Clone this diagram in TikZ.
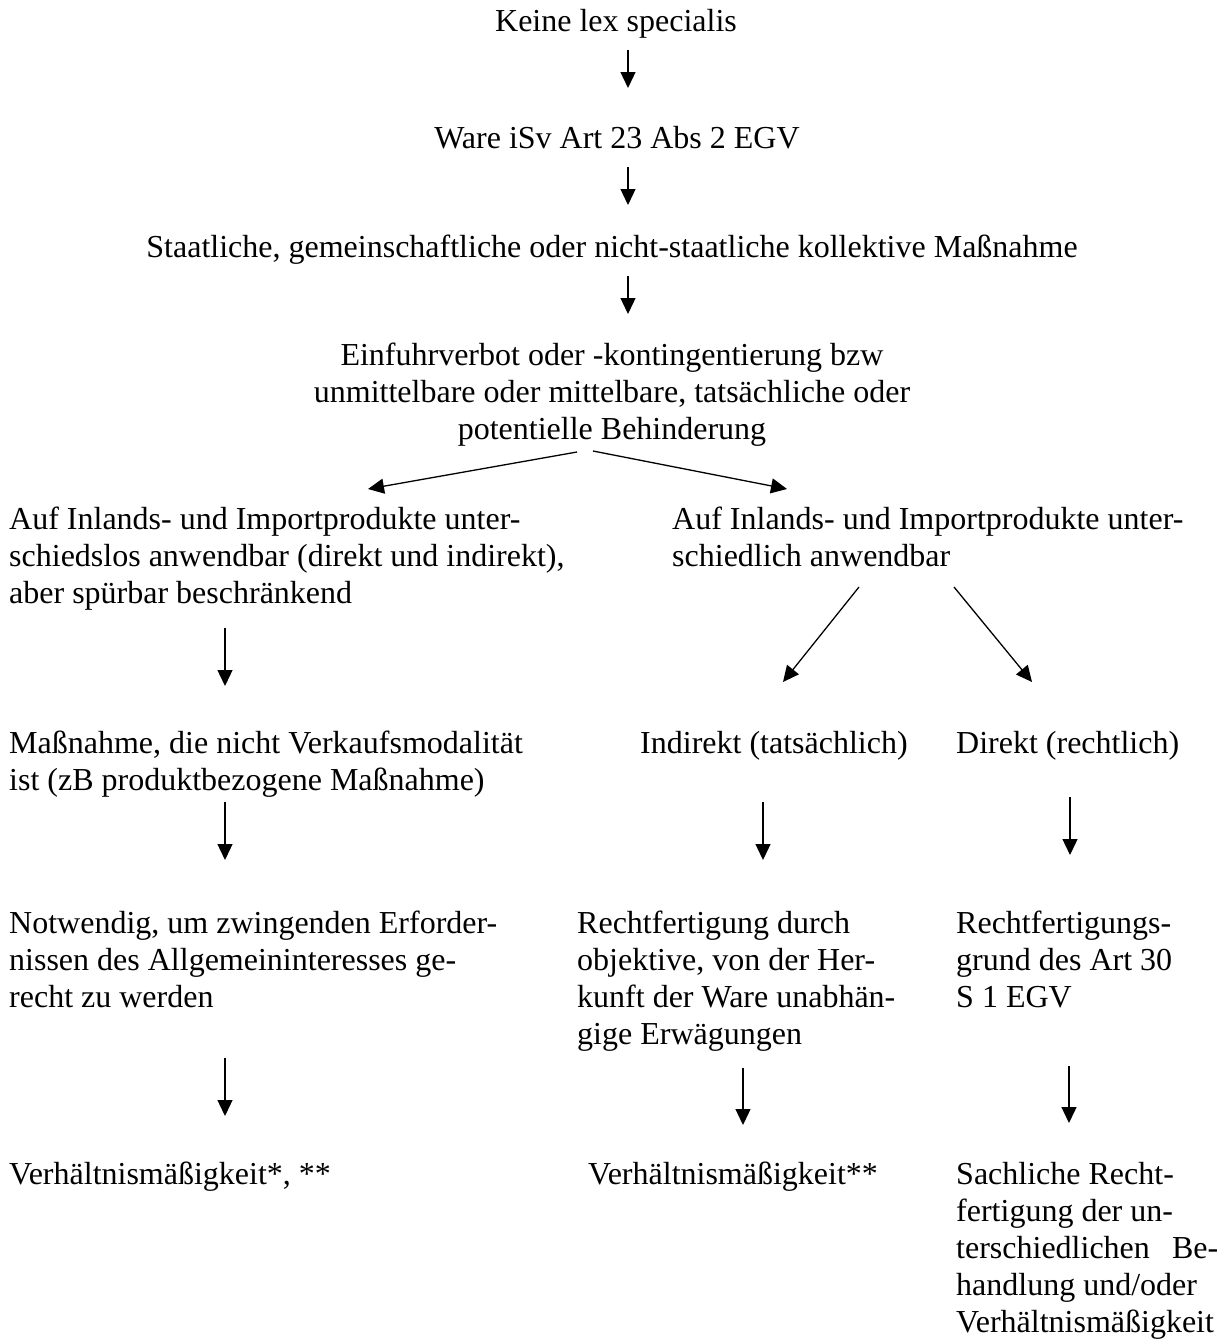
\documentclass[tikz,border=0pt]{standalone}
\usepackage{fontspec}
\setmainfont{Liberation Serif}
\usetikzlibrary{arrows.meta}
\newcommand{\fl}{\rule{0pt}{27pt}}
\begin{document}
\begin{tikzpicture}[x=1pt,y=-1pt,
  txt/.style={inner sep=0pt, anchor=north west, align=left, font=\fontsize{32}{37}\selectfont},
  ctxt/.style={txt, anchor=north, align=center},
  arr/.style={line width=1.3pt, -{Triangle[length=16pt,width=15pt]}}]
\fill[white] (0,0) rectangle (1229,1341);
\useasboundingbox (0,0) rectangle (1229,1341);
% texts
\node[ctxt] (keine) at (616,4) {\fl Keine lex specialis};
\node[ctxt] (ware) at (617,121) {\fl Ware iSv Art 23 Abs 2 EGV};
\node[ctxt] (staat) at (612,230) {\fl Staatliche, gemeinschaftliche oder nicht-staatliche kollektive Maßnahme};
\node[ctxt] (einf) at (612,338) {\fl Einfuhrverbot oder -kontingentierung bzw\\unmittelbare oder mittelbare, tatsächliche oder\\potentielle Behinderung};
\node[txt] (aufl) at (9,502) {\fl Auf Inlands- und Importprodukte unter-\\schiedslos anwendbar (direkt und indirekt),\\aber spürbar beschränkend};
\node[txt] (aufr) at (672,502) {\fl Auf Inlands- und Importprodukte unter-\\schiedlich anwendbar};
\node[txt] (mass) at (9,726) {\fl Maßnahme, die nicht Verkaufsmodalität\\ist (zB produktbezogene Maßnahme)};
\node[txt] (indir) at (640,726) {\fl Indirekt (tatsächlich)};
\node[txt] (direkt) at (956,726) {\fl Direkt (rechtlich)};
\node[txt] (notw) at (9,906) {\fl Notwendig, um zwingenden Erforder-\\nissen des Allgemeininteresses ge-\\recht zu werden};
\node[txt] (recht) at (577,906) {\fl Rechtfertigung durch\\objektive, von der Her-\\kunft der Ware unabhän-\\gige Erwägungen};
\node[txt] (rgrund) at (956,906) {\fl Rechtfertigungs-\\grund des Art 30\\S 1 EGV};
\node[txt] (verha) at (9,1157) {\fl Verhältnismäßigkeit*, **};
\node[txt] (verhb) at (588,1157) {\fl Verhältnismäßigkeit**};
\node[txt] (sachl) at (956,1157) {\fl Sachliche Recht-\\fertigung der un-\\\hbox to 262pt{terschiedlichen\hfill Be-}\\handlung und/oder\\Verhältnismäßigkeit};
% connector end points
\coordinate (a1s) at (628,50);   \coordinate (a1e) at (628,88);
\coordinate (a2s) at (628,167);  \coordinate (a2e) at (628,205);
\coordinate (a3s) at (628,276);  \coordinate (a3e) at (628,314);
\coordinate (d1s) at (577,452);  \coordinate (d1e) at (368,489);
\coordinate (d2s) at (593,451);  \coordinate (d2e) at (787,489);
\coordinate (l1s) at (225,628);  \coordinate (l1e) at (225,686);
\coordinate (d3s) at (859,587);  \coordinate (d3e) at (783,682);
\coordinate (d4s) at (954,587);  \coordinate (d4e) at (1032,682);
\coordinate (l2s) at (225,802);  \coordinate (l2e) at (225,860);
\coordinate (m1s) at (763,802);  \coordinate (m1e) at (763,860);
\coordinate (r1s) at (1070,797); \coordinate (r1e) at (1070,855);
\coordinate (l3s) at (225,1058); \coordinate (l3e) at (225,1116);
\coordinate (m2s) at (743,1068); \coordinate (m2e) at (743,1125);
\coordinate (r2s) at (1069,1066);\coordinate (r2e) at (1069,1123);
% connectors
\draw[arr] (a1s) -- (a1e);
\draw[arr] (a2s) -- (a2e);
\draw[arr] (a3s) -- (a3e);
\draw[arr] (d1s) -- (d1e);
\draw[arr] (d2s) -- (d2e);
\draw[arr] (l1s) -- (l1e);
\draw[arr] (d3s) -- (d3e);
\draw[arr] (d4s) -- (d4e);
\draw[arr] (l2s) -- (l2e);
\draw[arr] (m1s) -- (m1e);
\draw[arr] (r1s) -- (r1e);
\draw[arr] (l3s) -- (l3e);
\draw[arr] (m2s) -- (m2e);
\draw[arr] (r2s) -- (r2e);
\end{tikzpicture}
\end{document}
